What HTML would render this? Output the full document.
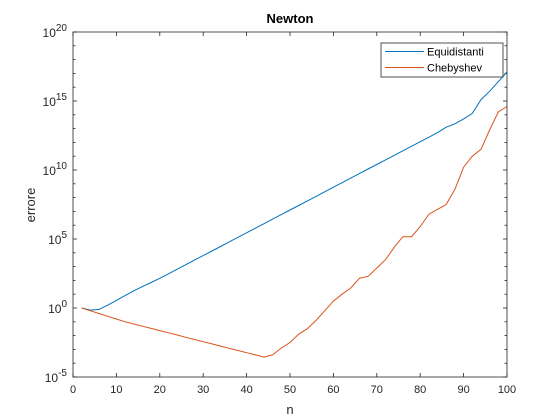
<!DOCTYPE html>
<html><head><meta charset="utf-8"><style>
body{margin:0;background:#fff;}
svg{display:block;font-family:"Liberation Sans",Arial,sans-serif;}
</style></head><body>
<svg id="chart" width="560" height="420">
<rect x="0" y="0" width="560" height="420" fill="#fff"/>
<rect x="73" y="32" width="434" height="345" fill="#fff"/>
<g id="grid"></g>
<g id="series"></g>
<rect x="73" y="32" width="434" height="345" fill="none" stroke="#262626" stroke-width="0.8"/>
<text x="290" y="23" text-anchor="middle" font-size="13" font-weight="bold" fill="#000">Newton</text>
<text x="290" y="414" text-anchor="middle" font-size="13" fill="#262626">n</text>
<text x="0" y="0" transform="translate(35,205) rotate(-90)" text-anchor="middle" font-size="13" fill="#262626">errore</text>
<g>
<rect x="381" y="43" width="122" height="34" fill="#fff" stroke="#262626" stroke-width="0.8"/>
<line x1="385" y1="51.5" x2="424" y2="51.5" stroke="#0072bd" stroke-width="1"/>
<text x="427" y="55.5" font-size="11" fill="#000">Equidistanti</text>
<line x1="385" y1="67.5" x2="424" y2="67.5" stroke="#d95319" stroke-width="1"/>
<text x="427" y="71.5" font-size="11" fill="#000">Chebyshev</text>
</g>
</svg>
<script>
const nValues = [2,4,6,8,10,12,14,16,18,20,22,24,26,28,30,32,34,36,38,40,42,44,46,48,50,52,54,56,58,60,62,64,66,68,70,72,74,76,78,80,82,84,86,88,90,92,94,96,98,100];
const equidistantiLog = [0,-0.15,-0.1,0.2,0.55,0.9,1.25,1.55,1.85,2.15,2.48,2.81,3.14,3.47,3.8,4.13,4.46,4.79,5.12,5.45,5.78,6.11,6.44,6.77,7.1,7.43,7.76,8.09,8.42,8.75,9.08,9.41,9.74,10.07,10.4,10.73,11.06,11.39,11.72,12.05,12.38,12.71,13.1,13.35,13.7,14.1,15.1,15.7,16.4,17.1];
const chebyshevLog = [0,-0.2,-0.4,-0.6,-0.8,-1.0,-1.16,-1.32,-1.48,-1.64,-1.8,-1.96,-2.12,-2.28,-2.44,-2.6,-2.76,-2.92,-3.08,-3.24,-3.4,-3.56,-3.4,-2.9,-2.5,-1.9,-1.5,-0.9,-0.2,0.5,1.0,1.45,2.15,2.3,2.9,3.5,4.4,5.17,5.17,5.9,6.8,7.15,7.5,8.6,10.2,11.0,11.5,12.9,14.2,14.6];
const xTicks = [0,10,20,30,40,50,60,70,80,90,100];
const yTickExps = [-5,0,5,10,15,20];

const X0=73,X1=507,Y0=377,Y1=32;
const xs = v => X0 + (v-0)/(100-0)*(X1-X0);
const ys = e => Y0 - (e-(-5))/(20-(-5))*(Y0-Y1);
const NS="http://www.w3.org/2000/svg";
const svg=document.getElementById('chart');
const grid=document.getElementById('grid');
const ser=document.getElementById('series');
function mk(tag,attrs,parent){const el=document.createElementNS(NS,tag);for(const k in attrs)el.setAttribute(k,attrs[k]);parent.appendChild(el);return el;}

xTicks.forEach(t=>{
  const x=xs(t);
  const a=mk('line',{x1:x,y1:Y0,x2:x,y2:Y0-4,stroke:'#262626','stroke-width':0.8},grid);
  
  
  const b=mk('line',{x1:x,y1:Y1,x2:x,y2:Y1+4,stroke:'#262626','stroke-width':0.8},grid);
  
  
  const tx=mk('text',{x:x,y:Y0+16,'text-anchor':'middle','font-size':11,fill:'#262626'},svg);
  tx.textContent=t;
  
  
});
for(let e=-5;e<=20;e++){
  const y=ys(e);
  const len=(e%5===0)?4:2.5;
  const a=mk('line',{x1:X0,y1:y,x2:X0+len,y2:y,stroke:'#262626','stroke-width':0.8},grid);
  
  
  const b=mk('line',{x1:X1,y1:y,x2:X1-len,y2:y,stroke:'#262626','stroke-width':0.8},grid);
  
  
}
yTickExps.forEach(e=>{
  const y=ys(e);
  const tx=mk('text',{x:X0-6,y:y+5,'text-anchor':'end','font-size':12,fill:'#262626'},svg);
  
  
  tx.textContent='10';
  const sp=mk('tspan',{dy:-6,'font-size':10},tx);
  sp.textContent=String(e);
});
function line(vals,color,name){
  const pts=nValues.map((n,i)=>xs(n).toFixed(1)+','+ys(vals[i]).toFixed(1)).join(' ');
  const p=mk('polyline',{points:pts,fill:'none',stroke:color,'stroke-width':1},ser);
  
  
}
line(equidistantiLog,'#0072bd','equidistanti-line');
line(chebyshevLog,'#d95319','chebyshev-line');
</script>
</body></html>
